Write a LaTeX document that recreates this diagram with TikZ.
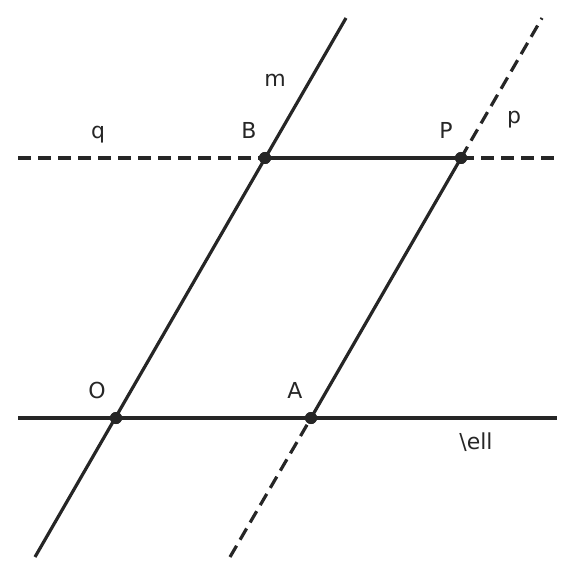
\documentclass[tikz,border=0pt]{standalone}
\usepackage{fontspec}
\setmainfont{DejaVu Sans}
\usepackage{tikz}
\usetikzlibrary{positioning}
\usepackage{xcolor}
\definecolor{ink}{HTML}{262626}

\begin{document}
\begin{tikzpicture}[x=0.5pt, y=-0.5pt, font=\fontsize{11}{13}\selectfont,
	line/.style={ink, line width=1.6pt},
	dashline/.style={ink, line width=1.6pt, dash pattern=on 6.5pt off 3.5pt},
	pt/.style={circle, fill=ink, inner sep=0pt, minimum size=6pt},
	lbl/.style={text=ink, inner sep=0pt, anchor=base}]
					\useasboundingbox (0, 0) rectangle (576, 576);
					\node [pt] (O) at (116, 418) {};
					\node [pt] (A) at (311, 418) {};
					\node [pt] (B) at (265, 158) {};
					\node [pt] (P) at (461, 158) {};
					\coordinate (l1) at (18, 418);
					\coordinate (l2) at (557, 418);
					\coordinate (q1) at (18, 158);
					\coordinate (q2) at (557, 158);
					\coordinate (m1) at (35, 557);
					\coordinate (m2) at (346, 18);
					\coordinate (p1) at (230, 557);
					\coordinate (p2) at (542, 18);
					\draw [line] (l1)--(l2);
					\draw [dashline] (q1)--(B.center);
					\draw [line] (B.center)--(P.center);
					\draw [dashline] (P.center)--(q2);
					\draw [line] (m1)--(m2);
					\draw [dashline] (p1)--(A.center);
					\draw [line] (A.center)--(P.center);
					\draw [dashline] (P.center)--(p2);
					\node [pt] at (O) {};
					\node [pt] at (A) {};
					\node [pt] at (B) {};
					\node [pt] at (P) {};
					\node [lbl] (lO) at (97, 398.5) {O};
					\node [lbl] (lA) at (295, 398.5) {A};
					\node [lbl] (lB) at (249, 139) {B};
					\node [lbl] (lP) at (446, 139) {P};
					\node [lbl] (lm) at (275, 86.5) {m};
					\node [lbl] (lq) at (98, 139) {q};
					\node [lbl] (lp) at (514, 123.5) {p};
					\node [lbl] (ll) at (476, 449) {\textbackslash ell};
				\end{tikzpicture}
\end{document}
